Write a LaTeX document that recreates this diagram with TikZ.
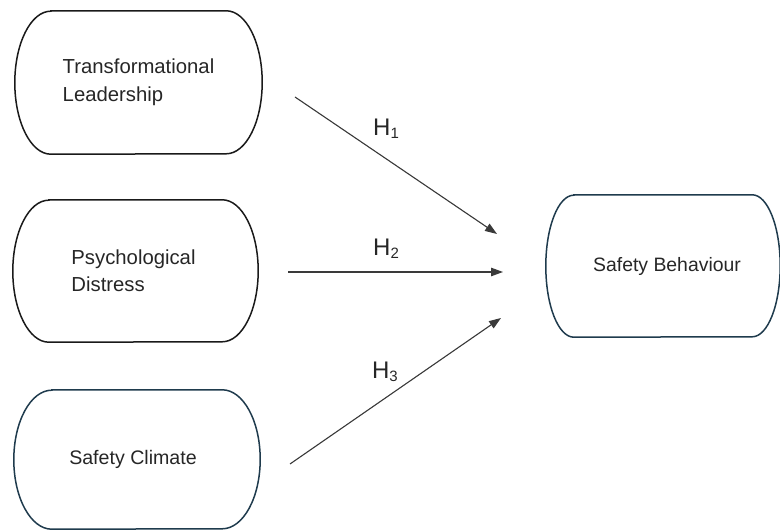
\documentclass[tikz,border=0pt]{standalone}
\usepackage{fontspec}
\setmainfont{Liberation Sans}
\usetikzlibrary{arrows.meta}

\definecolor{inkdark}{HTML}{1A1A1A}
\definecolor{inkslate}{HTML}{1F3B4D}
\definecolor{txtgray}{HTML}{262626}
\definecolor{arrowgray}{HTML}{3A3A3A}

% terminal-like outline around a named node: flat top/bottom, half-elliptic sides
\newcommand\termoutline[4]{% #1 node, #2 side radius, #3 half height, #4 colour
  \draw[line width=1.5bp,#4]
    ([xshift=#2]#1.north west) -- ([xshift=-#2]#1.north east)
    arc[start angle=90,end angle=-90,x radius=#2,y radius=#3]
    -- ([xshift=#2]#1.south west)
    arc[start angle=270,end angle=90,x radius=#2,y radius=#3] -- cycle;}

\newcommand\hyplabel[1]{H{\fontsize{15bp}{15bp}\selectfont\raisebox{-3bp}{#1}}}

\begin{document}
\begin{tikzpicture}[x=1bp,y=1bp,
  boxtext/.style={draw=none,align=left,text=txtgray,inner sep=0pt,
    font=\fontsize{20.3bp}{27.5bp}\selectfont},
  hyp/.style={-{Triangle[length=12bp,width=8.5bp]},draw=arrowgray,fill=arrowgray,line width=1.1bp},
  hyptext/.style={text=txtgray,inner sep=0pt,font=\fontsize{24bp}{24bp}\selectfont}]
  \useasboundingbox (0,0) rectangle (780,531);

  % constructs
  \node[boxtext,minimum width=247bp,minimum height=143bp] (tl) at (138.5,448.5)
    {Transformational\\Leadership};
  \node[boxtext,minimum width=245bp,minimum height=142bp] (pd) at (135.5,260)
    {\hspace*{-4bp}Psychological\\\hspace*{-4bp}Distress};
  \node[boxtext,minimum width=246bp,minimum height=139bp,
    font=\fontsize{19.6bp}{24bp}\selectfont] (sc) at (137,71.5)
    {\hspace*{-8bp}Safety Climate};
  \node[boxtext,minimum width=234bp,minimum height=142bp,
    font=\fontsize{19.4bp}{24bp}\selectfont] (sb) at (663,265)
    {\hspace*{8bp}Safety Behaviour};

  \termoutline{tl}{36bp}{71.5bp}{inkdark}
  \termoutline{pd}{36bp}{71bp}{inkdark}
  \termoutline{sc}{38bp}{69.5bp}{inkslate}
  \termoutline{sb}{28bp}{71bp}{inkslate}

  % hypothesised paths
  \coordinate (h1s) at (295,434);
  \coordinate (h1e) at (497,297);
  \coordinate (h2s) at (288,259);
  \coordinate (h2e) at (503,259);
  \coordinate (h3s) at (290,67);
  \coordinate (h3e) at (501,213);

  \draw[hyp] (h1s) -- (h1e);
  \draw[hyp] (h2s) -- (h2e);
  \draw[hyp] (h3s) -- (h3e);

  \node[hyptext] (l1) at (386,402) {\hyplabel{1}};
  \node[hyptext] (l2) at (386,282) {\hyplabel{2}};
  \node[hyptext] (l3) at (385,159) {\hyplabel{3}};
\end{tikzpicture}
\end{document}
